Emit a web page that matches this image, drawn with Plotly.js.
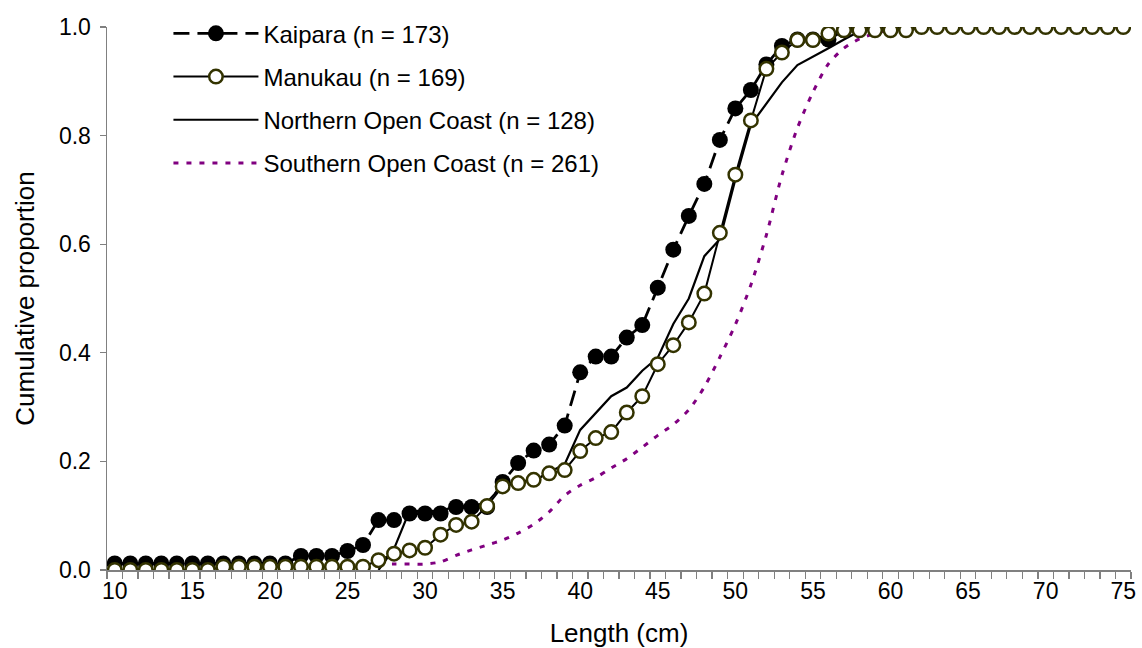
<!DOCTYPE html>
<html>
<head>
<meta charset="utf-8">
<script src="https://cdn.plot.ly/plotly-3.0.1.min.js"></script>
<style>
  html, body { margin: 0; padding: 0; background: #ffffff; }
  #chart { width: 1142px; height: 648px; }
</style>
</head>
<body>
<div id="chart"></div>
<script>
// Length classes (cm)
const lengths = [10, 11, 12, 13, 14, 15, 16, 17, 18, 19, 20, 21, 22, 23, 24, 25, 26, 27, 28, 29,
                 30, 31, 32, 33, 34, 35, 36, 37, 38, 39, 40, 41, 42, 43, 44, 45, 46, 47, 48, 49,
                 50, 51, 52, 53, 54, 55, 56, 57, 58, 59, 60, 61, 62, 63, 64, 65, 66, 67, 68, 69,
                 70, 71, 72, 73, 74, 75];

// Cumulative proportion by length, Kaipara (10-61 cm)
const kaipara = [0.012, 0.012, 0.012, 0.012, 0.012, 0.012, 0.012, 0.012, 0.012, 0.012, 0.012, 0.012,
                 0.026, 0.026, 0.026, 0.035, 0.046, 0.092, 0.092, 0.104, 0.104, 0.104, 0.116, 0.116,
                 0.116, 0.162, 0.197, 0.220, 0.231, 0.266, 0.364, 0.393, 0.393, 0.428, 0.451, 0.520,
                 0.590, 0.652, 0.711, 0.792, 0.850, 0.884, 0.931, 0.965, 0.977, 0.977, 0.977, 0.994,
                 1.000, 1.000, 1.000, 1.000];

// Manukau (10-75 cm)
const manukau = [0, 0, 0, 0, 0, 0, 0,
                 0.006, 0.006, 0.006, 0.006, 0.006, 0.006, 0.006, 0.006, 0.006, 0.006,
                 0.018, 0.030, 0.036, 0.041, 0.065, 0.083, 0.089, 0.118, 0.154, 0.160,
                 0.166, 0.178, 0.184, 0.219, 0.243, 0.254, 0.290, 0.320, 0.379, 0.414,
                 0.456, 0.509, 0.621, 0.728, 0.828, 0.923, 0.953, 0.976, 0.976, 0.988,
                 0.994, 0.994, 0.994, 0.994, 0.994,
                 1, 1, 1, 1, 1, 1, 1, 1, 1, 1, 1, 1, 1, 1];

// Northern Open Coast (27-75 cm)
const northern = [0.000, 0.039, 0.109, 0.109, 0.109, 0.117, 0.117, 0.125, 0.156, 0.164,
                  0.164, 0.180, 0.195, 0.258, 0.289, 0.320, 0.336, 0.367, 0.391, 0.453,
                  0.500, 0.578, 0.609, 0.719, 0.820, 0.859, 0.898, 0.930, 0.945, 0.961,
                  0.977, 0.992, 1, 1, 1, 1, 1, 1, 1, 1, 1, 1, 1, 1, 1, 1, 1, 1, 1];

// Southern Open Coast (27-75 cm)
const southern = [0.011, 0.011, 0.011, 0.011, 0.015, 0.027, 0.037, 0.046, 0.055, 0.068,
                  0.084, 0.107, 0.137, 0.156, 0.170, 0.188, 0.205, 0.226, 0.248, 0.268,
                  0.295, 0.337, 0.392, 0.452, 0.525, 0.617, 0.727, 0.814, 0.880, 0.932,
                  0.961, 0.978, 0.988, 0.996, 1, 1, 1, 1, 1, 1, 1, 1, 1, 1, 1, 1, 1, 1, 1];

const seriesNames = ['Kaipara (n = 173)', 'Manukau (n = 169)',
                     'Northern Open Coast (n = 128)', 'Southern Open Coast (n = 261)'];
const xTickVals = [10, 15, 20, 25, 30, 35, 40, 45, 50, 55, 60, 65, 70, 75];
const yTickVals = [0, 0.2, 0.4, 0.6, 0.8, 1.0];

const openCoastStart = lengths.indexOf(27);
const FONT = '"Liberation Sans", Arial, sans-serif';

const traces = [
  {
    name: seriesNames[3], legendrank: 4, legendgroup: 'g4',
    x: lengths.slice(openCoastStart, openCoastStart + southern.length), y: southern,
    type: 'scatter', mode: 'lines',
    line: { color: '#800080', width: 3, dash: '5px,8px', shape: 'spline', smoothing: 0.8 }
  },
  {
    name: seriesNames[2], legendrank: 3, legendgroup: 'g3',
    x: lengths.slice(openCoastStart, openCoastStart + northern.length), y: northern,
    type: 'scatter', mode: 'lines',
    line: { color: '#000000', width: 2.2 }
  },
  {
    name: seriesNames[0], legendrank: 1, legendgroup: 'g1',
    x: lengths.slice(0, kaipara.length), y: kaipara,
    type: 'scatter', mode: 'lines+markers',
    line: { color: '#000000', width: 2.8, dash: '16px,8px' },
    marker: { symbol: 'circle', size: 16, color: '#000000' }
  },
  {
    name: seriesNames[1], legendrank: 2, legendgroup: 'g2',
    x: lengths.slice(0, manukau.length), y: manukau,
    type: 'scatter', mode: 'lines+markers',
    line: { color: '#000000', width: 2 },
    marker: { symbol: 'circle', size: 13.5, color: '#ffffff', line: { color: '#333300', width: 2.5 } }
  }
];

const layout = {
  width: 1142, height: 648,
  margin: { l: 107, r: 11, t: 27, b: 78 },
  paper_bgcolor: '#ffffff', plot_bgcolor: '#ffffff',
  font: { family: FONT, size: 23, color: '#000000' },
  showlegend: true,
  legend: {
    x: 0.06, y: 1.029, xanchor: 'left', yanchor: 'top',
    bgcolor: 'rgba(0,0,0,0)', borderwidth: 0,
    font: { family: FONT, size: 24, color: '#000000' },
    traceorder: 'grouped', tracegroupgap: 9, itemwidth: 85
  },
  xaxis: {
    range: [9.5, 75.5], fixedrange: true,
    tickmode: 'array', tickvals: xTickVals, ticktext: xTickVals.map(String),
    ticks: '', showgrid: false, zeroline: false,
    showline: true, linecolor: '#808080', linewidth: 1.5,
    minor: { tick0: 9.5, dtick: 1, ticks: 'outside', ticklen: 7, tickcolor: '#808080', tickwidth: 1.2, showgrid: false },
    tickfont: { family: FONT, size: 23, color: '#000000' },
    title: { text: 'Length (cm)', font: { family: FONT, size: 26, color: '#000000' }, standoff: 20 },
    automargin: false
  },
  yaxis: {
    range: [0, 1], fixedrange: true,
    tickmode: 'array', tickvals: yTickVals, tickformat: '.1f',
    ticks: 'outside', ticklen: 6, tickcolor: '#808080', tickwidth: 1.2,
    ticklabelstandoff: 4,
    showgrid: false, zeroline: false,
    showline: true, linecolor: '#808080', linewidth: 1.5,
    tickfont: { family: FONT, size: 23, color: '#000000' },
    title: { text: 'Cumulative proportion', font: { family: FONT, size: 26, color: '#000000' }, standoff: 17 },
    automargin: false
  }
};

Plotly.newPlot('chart', traces, layout, { staticPlot: true, displayModeBar: false });
</script>
</body>
</html>
